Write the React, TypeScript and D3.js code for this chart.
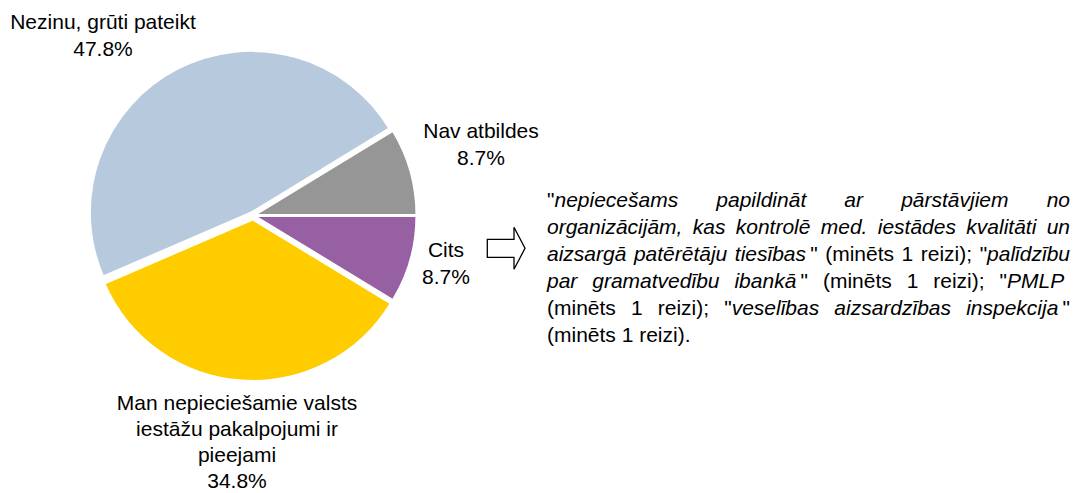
import React from "react";
import * as d3 from "d3";

const categories = [
  "Cits",
  "Man nepieciešamie valsts iestāžu pakalpojumi ir pieejami",
  "Nezinu, grūti pateikt",
  "Nav atbildes",
];
const values = [8.7, 34.8, 47.8, 8.7];
const sliceColors = ["#9660a3", "#ffcc00", "#b7c9dd", "#969696"];
const labelLines = [
  ["Cits"],
  ["Man nepieciešamie valsts", "iestāžu pakalpojumi ir", "pieejami"],
  ["Nezinu, grūti pateikt"],
  ["Nav atbildes"],
];
// '_' toggles italic
const noteLines = [
  '"_nepiecešams papildināt ar pārstāvjiem no',
  "organizācijām, kas kontrolē med. iestādes kvalitāti un",
  'aizsargā patērētāju tiesības_\u2009" (minēts 1 reizi); "_palīdzību',
  'par gramatvedību ibankā_\u2009" (minēts 1 reizi); "_PMLP\u00a0',
  '_(minēts 1 reizi); "_veselības aizsardzības inspekcija_\u2009"',
  "(minēts 1 reizi).",
];

const W = 1074;
const H = 493;
const FONT = '"Liberation Sans", Arial, sans-serif';
const FS = 21;
const cx = 253;
const cy = 215.5;
const R = 161.5;
const explode = [2, 4, 3.5, 2];
const labelPos = [
  { x: 446, y: 257, lh: 27 },
  { x: 237, y: 410, lh: 26 },
  { x: 103, y: 29, lh: 27 },
  { x: 481, y: 138, lh: 27 },
];
const note = { x: 547, right: 1070, y: 207, lh: 27 };

type Seg = { t: string; i: boolean };

function layoutNote() {
  const canvas = document.createElement("canvas");
  const ctx = canvas.getContext("2d")!;
  const measure = (s: Seg) => {
    ctx.font = `${s.i ? "italic " : ""}${FS}px ${FONT}`;
    return ctx.measureText(s.t).width;
  };
  let italic = false;
  const out: { x: number; y: number; seg: Seg }[] = [];
  noteLines.forEach((line, li) => {
    const tokens: Seg[][] = line.split(" ").map((word) => {
      const segs: Seg[] = [];
      let cur = "";
      for (const ch of word) {
        if (ch === "_") {
          if (cur) segs.push({ t: cur, i: italic });
          cur = "";
          italic = !italic;
        } else cur += ch;
      }
      if (cur) segs.push({ t: cur, i: italic });
      return segs;
    });
    const widths = tokens.map((tk) => d3.sum(tk, measure));
    ctx.font = `${FS}px ${FONT}`;
    const space = ctx.measureText(" ").width;
    const total = d3.sum(widths);
    const last = li === noteLines.length - 1;
    const gap = last || tokens.length < 2 ? space : (note.right - note.x - total) / (tokens.length - 1);
    let x = note.x;
    const y = note.y + li * note.lh;
    tokens.forEach((tk) => {
      tk.forEach((s) => {
        out.push({ x, y, seg: s });
        x += measure(s);
      });
      x += gap;
    });
  });
  return out;
}

export default function App() {
  const pie = d3
    .pie<number>()
    .sort(null)
    .value((d) => d)
    .startAngle(Math.PI / 2)
    .endAngle(Math.PI / 2 + 2 * Math.PI);
  const arcs = pie(values);
  const arc = d3.arc<d3.PieArcDatum<number>>().innerRadius(0).outerRadius(R);
  const noteSegs = layoutNote();

  const arrowPts = [
    [487.3, 239.3],
    [514, 239.3],
    [514, 227.3],
    [525, 248.3],
    [514, 269.3],
    [514, 257.3],
    [487.3, 257.3],
  ];

  return (
    <svg
      width={W}
      height={H}
      style={{ position: "absolute", left: 0, top: 0, background: "#fff" }}
      fontFamily={FONT}
      fontSize={FS}
    >
      <g transform={`translate(${cx},${cy})`}>
        {arcs.map((a, i) => {
          const mid = (a.startAngle + a.endAngle) / 2;
          const dx = Math.sin(mid) * explode[i];
          const dy = -Math.cos(mid) * explode[i];
          return (
            <path
              key={categories[i]}
              d={arc(a) || ""}
              transform={`translate(${dx},${dy})`}
              fill={sliceColors[i]}
              stroke="#fff"
              strokeWidth={2}
              strokeLinejoin="round"
            />
          );
        })}
      </g>
      {labelLines.map((lines, i) => {
        const p = labelPos[i];
        const all = [...lines, `${values[i].toFixed(1)}%`];
        return (
          <text key={categories[i]} textAnchor="middle" fill="#000">
            {all.map((l, j) => (
              <tspan key={j} x={p.x} y={p.y + j * p.lh}>
                {l}
              </tspan>
            ))}
          </text>
        );
      })}
      <polygon
        points={arrowPts.map((p) => p.join(",")).join(" ")}
        fill="#fff"
        stroke="#000"
        strokeWidth={1.3}
      />
      {noteSegs.map((s, k) => (
        <text key={k} x={s.x} y={s.y} fontStyle={s.seg.i ? "italic" : "normal"} fill="#000">
          {s.seg.t}
        </text>
      ))}
    </svg>
  );
}
